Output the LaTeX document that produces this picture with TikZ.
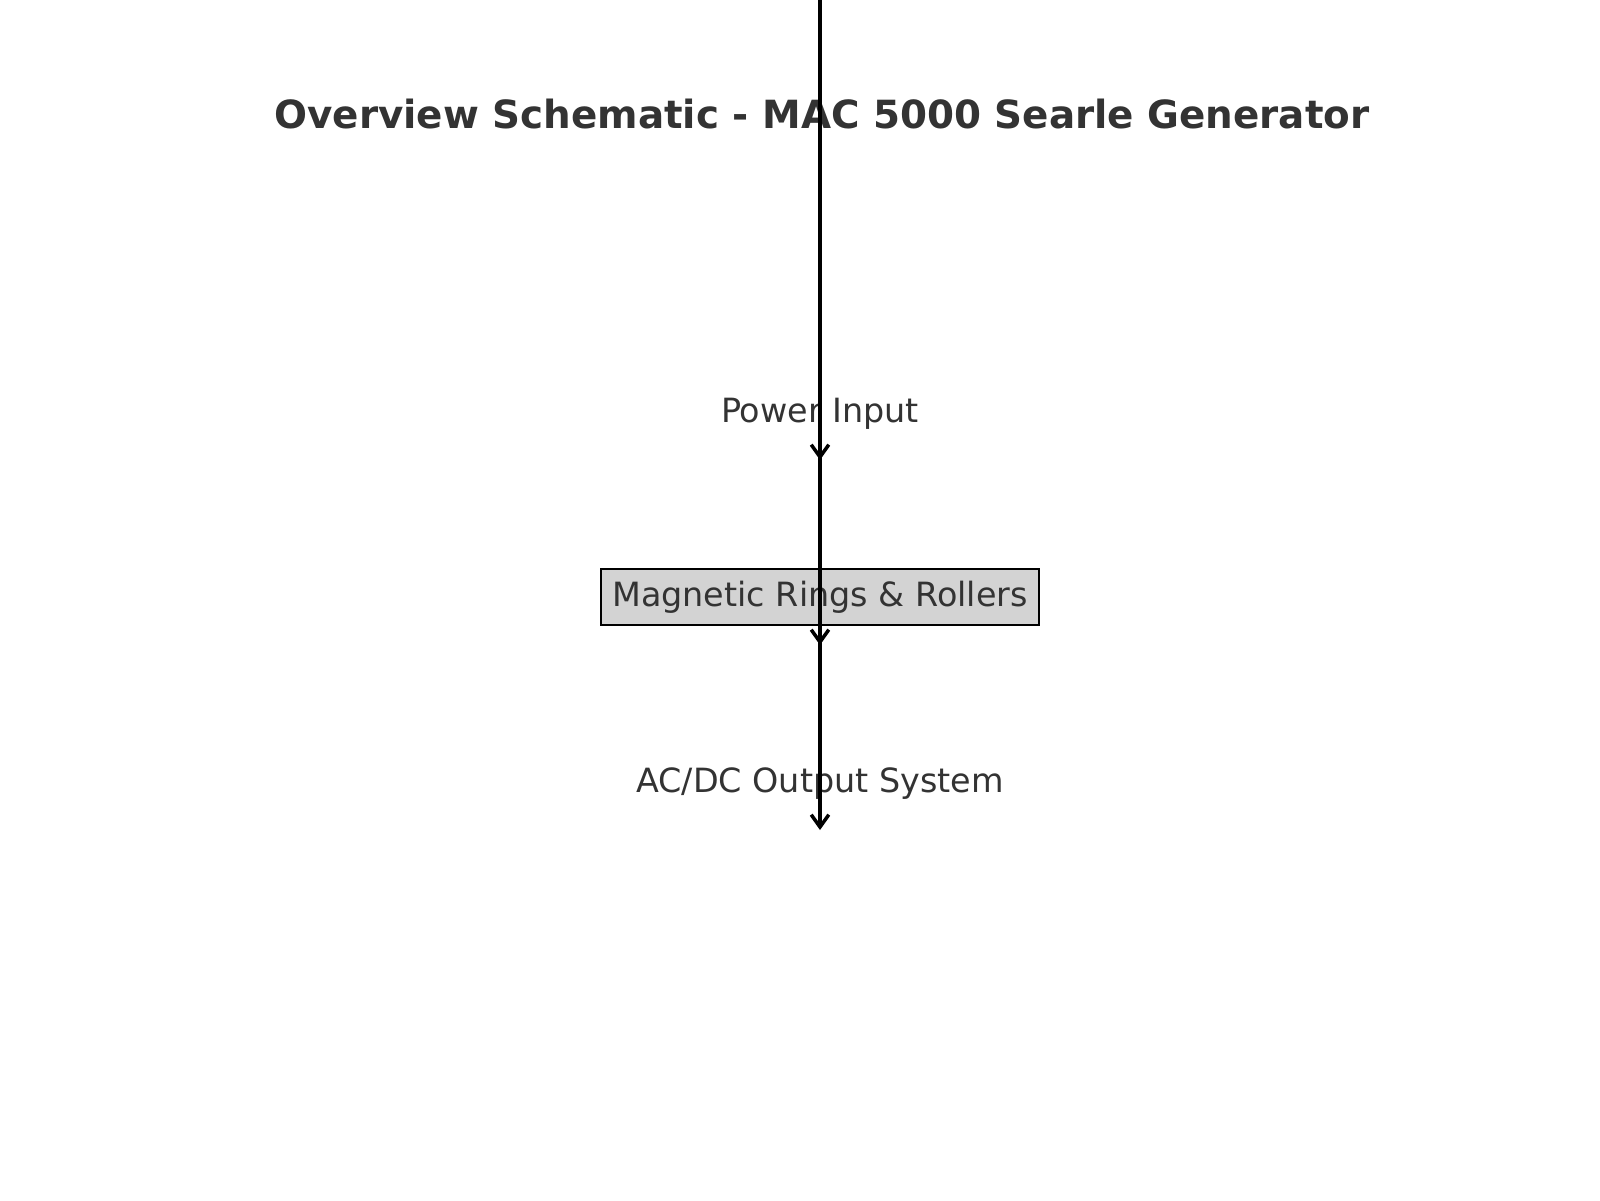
\documentclass[tikz,border=0pt]{standalone}
\usepackage{fontspec}
\setmainfont{DejaVu Sans}
\usetikzlibrary{positioning,arrows.meta}
\definecolor{textgray}{RGB}{51, 51, 51}
\definecolor{boxgray}{RGB}{211, 211, 211}

\begin{document}
\begin{tikzpicture}[
    label/.style={text=textgray, font=\fontsize{9.5}{11}\selectfont, anchor=base, inner sep=0pt},
    partbox/.style={draw=black, line width=0.8pt, fill=boxgray, minimum width=4.38cm, minimum height=0.56cm, inner sep=0pt},
    flow/.style={line width=1pt, shorten <=-2pt, -{Straight Barb[length=3.5pt,width=5pt]}}
]
    % Canvas
    \useasboundingbox (0,0) rectangle (16,-12);

    % Basic parameters
    \def\xmid{8.2}

    % Add title
    \node[label, font=\fontsize{11.05}{13}\selectfont\bfseries] (title) at (8.22,-1.28) {Overview Schematic - MAC 5000 Searle Generator};

    % Add labels
    \node[label] (power) at (\xmid,-4.22) {Power Input};
    \node[partbox] (rings) at (\xmid,-5.97) {};
    \node[label] (ringstext) at (\xmid,-6.06) {Magnetic Rings \& Rollers};
    \node[label] (output) at (\xmid,-7.92) {AC/DC Output System};

    % Arrow ends
    \coordinate (src) at (\xmid,0);
    \coordinate (powertip) at (\xmid,-4.6);
    \coordinate (ringstip) at (\xmid,-6.45);
    \coordinate (outputtip) at (\xmid,-8.3);

    % Draw arrows
    \draw[flow] (src) -- (powertip);
    \draw[flow] (powertip) -- (ringstip);
    \draw[flow] (ringstip) -- (outputtip);
\end{tikzpicture}
\end{document}
